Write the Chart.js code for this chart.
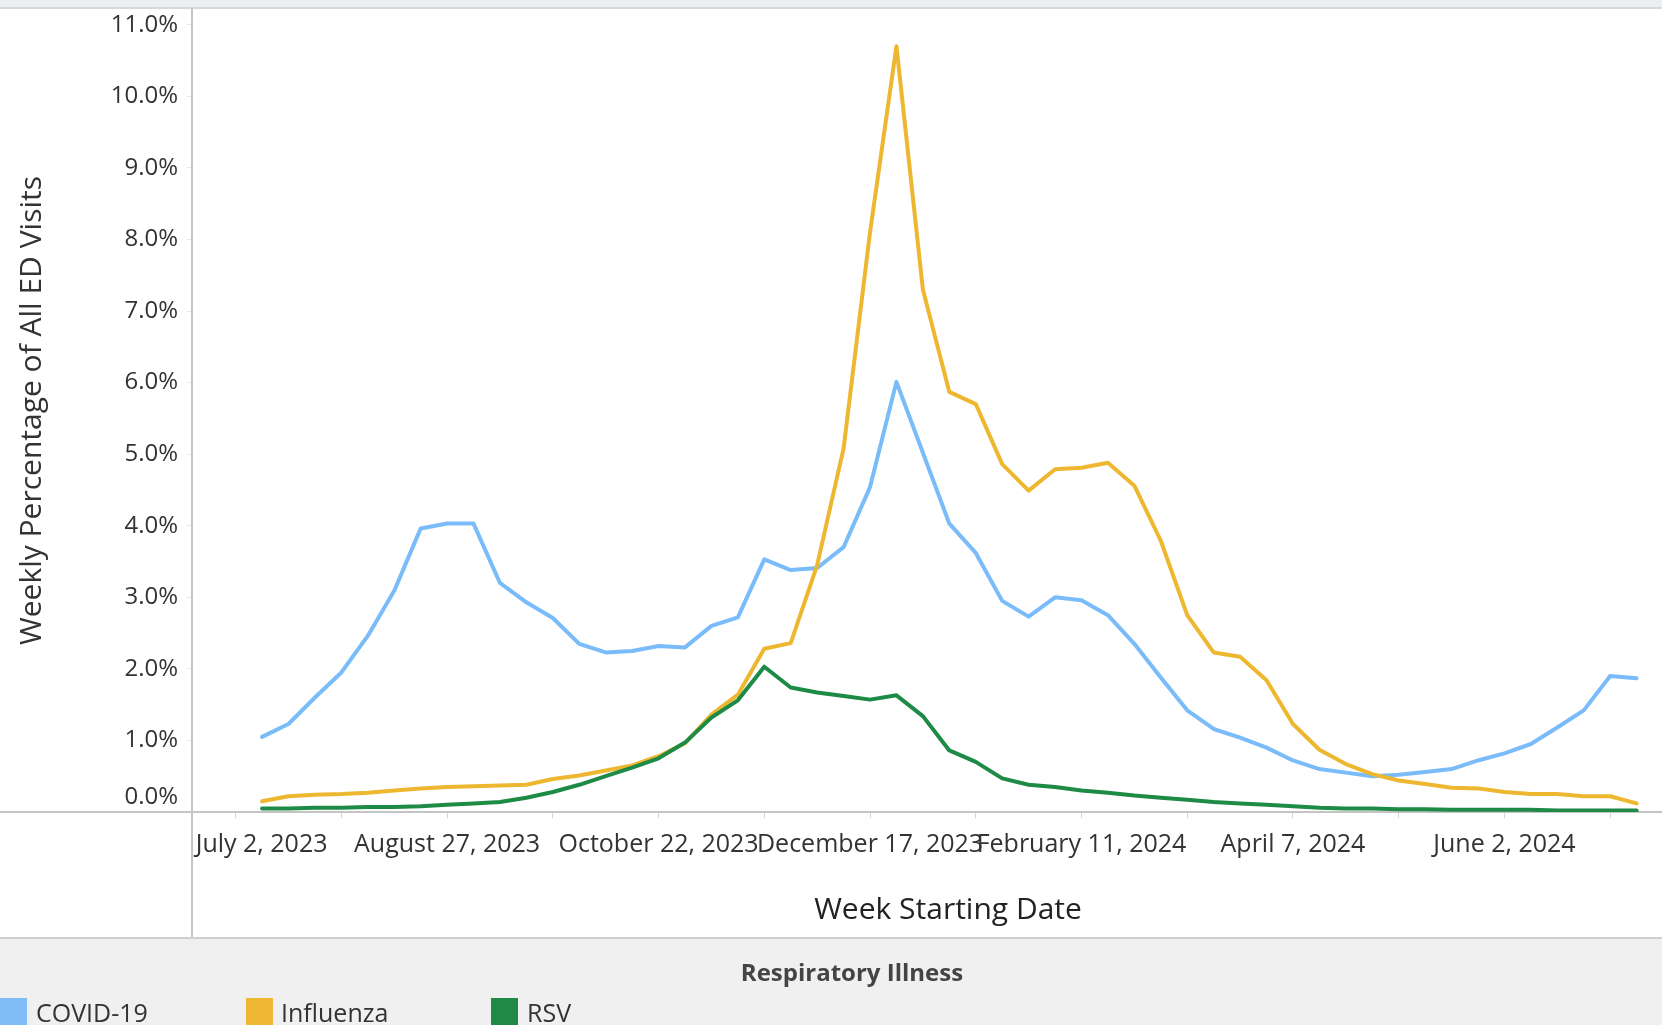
<!DOCTYPE html>
<html>
<head>
<meta charset="utf-8">
<script src="https://cdn.jsdelivr.net/npm/chart.js@4.4.1/dist/chart.umd.min.js"></script>
<style>
  html, body { margin: 0; padding: 0; width: 1662px; height: 1025px; overflow: hidden; background: #fff; font-family: 'Open Sans', sans-serif; }
  #topband { position: absolute; left: 0; top: 0; width: 1662px; height: 7px; background: #eceef1; border-bottom: 2px solid #d6d8dc; }
  #wrap { position: absolute; left: 0; top: 0; width: 1704px; height: 938px; }
  .rule { position: absolute; background: #c4c4c4; }
  #legend { position: absolute; left: 0; top: 937px; width: 1662px; height: 88px; background: #f0f0f0; border-top: 2px solid #cfcfcf; }
  #legend .ttl { position: absolute; left: 0; width: 1704px; top: 18px; height: 30px; line-height: 30px; text-align: center; font-weight: 700; font-size: 24px; color: #444; }
  #legend .sw { position: absolute; top: 59px; width: 27px; height: 29px; }
  #legend .lb { position: absolute; top: 58px; height: 30px; line-height: 30px; font-size: 25px; color: #333; }
</style>
</head>
<body>
<div id="topband"></div>
<div id="wrap"><canvas id="chart" width="1704" height="938"></canvas></div>
<div class="rule" style="left:0;top:811px;width:192px;height:2px"></div>
<div class="rule" style="left:191px;top:812px;width:2px;height:126px"></div>
<div id="legend">
  <div class="ttl">Respiratory Illness</div>
  <div class="sw" style="left:0;background:#80bdf6"></div>
  <div class="lb" style="left:36px">COVID-19</div>
  <div class="sw" style="left:246px;background:#efb733"></div>
  <div class="lb" style="left:281px">Influenza</div>
  <div class="sw" style="left:491px;background:#1f8a45"></div>
  <div class="lb" style="left:527px">RSV</div>
</div>
<script>
// week starting dates (categories)
const weeks = [
  'July 2, 2023', 'July 9, 2023', 'July 16, 2023', 'July 23, 2023', 'July 30, 2023',
  'August 6, 2023', 'August 13, 2023', 'August 20, 2023', 'August 27, 2023',
  'September 3, 2023', 'September 10, 2023', 'September 17, 2023', 'September 24, 2023',
  'October 1, 2023', 'October 8, 2023', 'October 15, 2023', 'October 22, 2023', 'October 29, 2023',
  'November 5, 2023', 'November 12, 2023', 'November 19, 2023', 'November 26, 2023',
  'December 3, 2023', 'December 10, 2023', 'December 17, 2023', 'December 24, 2023', 'December 31, 2023',
  'January 7, 2024', 'January 14, 2024', 'January 21, 2024', 'January 28, 2024',
  'February 4, 2024', 'February 11, 2024', 'February 18, 2024', 'February 25, 2024',
  'March 3, 2024', 'March 10, 2024', 'March 17, 2024', 'March 24, 2024', 'March 31, 2024',
  'April 7, 2024', 'April 14, 2024', 'April 21, 2024', 'April 28, 2024',
  'May 5, 2024', 'May 12, 2024', 'May 19, 2024', 'May 26, 2024',
  'June 2, 2024', 'June 9, 2024', 'June 16, 2024', 'June 23, 2024', 'June 30, 2024'
];

// weekly % of all ED visits
const covid = [1.05, 1.23, 1.60, 1.95, 2.46, 3.09, 3.96, 4.03, 4.03, 3.20, 2.93, 2.71, 2.35, 2.23, 2.25, 2.32, 2.30, 2.60, 2.72, 3.53,
  3.38, 3.41, 3.70, 4.54, 6.01, 5.02, 4.03, 3.62, 2.95, 2.73, 3.00, 2.96, 2.75, 2.35, 1.88, 1.42, 1.16, 1.04, 0.90, 0.72,
  0.60, 0.55, 0.50, 0.52, 0.56, 0.60, 0.72, 0.82, 0.95, 1.18, 1.42, 1.90, 1.87];
const influenza = [0.15, 0.22, 0.24, 0.25, 0.27, 0.30, 0.33, 0.35, 0.36, 0.37, 0.38, 0.46, 0.51, 0.58, 0.65, 0.78, 0.96, 1.36, 1.64, 2.28,
  2.36, 3.45, 5.08, 8.10, 10.70, 7.30, 5.87, 5.70, 4.86, 4.49, 4.79, 4.81, 4.88, 4.56, 3.79, 2.75, 2.23, 2.17, 1.84, 1.23,
  0.87, 0.67, 0.53, 0.44, 0.39, 0.34, 0.33, 0.28, 0.25, 0.25, 0.22, 0.22, 0.12];
const rsv = [0.05, 0.05, 0.06, 0.06, 0.07, 0.07, 0.08, 0.10, 0.12, 0.14, 0.20, 0.28, 0.38, 0.50, 0.62, 0.75, 0.97, 1.32, 1.56, 2.03,
  1.74, 1.67, 1.62, 1.57, 1.63, 1.34, 0.86, 0.70, 0.47, 0.38, 0.35, 0.30, 0.27, 0.23, 0.20, 0.17, 0.14, 0.12, 0.10, 0.08,
  0.06, 0.05, 0.05, 0.04, 0.04, 0.03, 0.03, 0.03, 0.03, 0.02, 0.02, 0.02, 0.02];

// labelled weeks; the label sits on the week boundary just before each one
const labelWeeks = [0, 8, 16, 24, 32, 40, 48];
const markWeeks = [-1, 3, 7, 11, 15, 19, 23, 27, 31, 35, 39, 43, 47, 51];
const yTicks = [0, 1, 2, 3, 4, 5, 6, 7, 8, 9, 10, 11];

const X_MIN = -2.65, X_MAX = 54.55;
const FONT = 'Open Sans';

const toPoints = arr => arr.map((v, i) => ({ x: i, y: v }));

function lineSet(label, data, color, order) {
    return {
        label: label,
        data: toPoints(data),
        borderColor: color,
        backgroundColor: color,
        borderWidth: 4,
        pointRadius: 0,
        tension: 0,
        borderJoinStyle: 'round',
        borderCapStyle: 'round',
        order: order
    };
}

new Chart(document.getElementById('chart'), {
    type: 'line',
    data: {
        datasets: [
            lineSet('COVID-19', covid, '#7abbf9', 3),
            lineSet('Influenza', influenza, '#eeb730', 2),
            lineSet('RSV', rsv, '#1d8a45', 1)
        ]
    },
    options: {
        responsive: false,
        animation: false,
        layout: { padding: { top: 9, left: 0, right: 0, bottom: 0 } },
        plugins: {
            legend: { display: false },
            tooltip: {
                callbacks: {
                    title: (items) => weeks[items[0].parsed.x],
                    label: (ctx) => `${ctx.dataset.label}: ${ctx.parsed.y.toFixed(1)}%`
                }
            }
        },
        scales: {
            x2: {
                type: 'linear',
                position: 'bottom',
                weight: -1,
                min: X_MIN,
                max: X_MAX,
                afterBuildTicks: (s) => { s.ticks = markWeeks.map(v => ({ value: v })); },
                afterFit: (s) => { s.height = 0; s.paddingLeft = 0; s.paddingRight = 0; },
                ticks: { display: false },
                grid: { drawOnChartArea: false, drawTicks: true, tickLength: 6, color: '#d4d4d4' },
                border: { display: false }
            },
            x: {
                type: 'linear',
                position: 'bottom',
                min: X_MIN,
                max: X_MAX,
                afterBuildTicks: (s) => { s.ticks = labelWeeks.map(w => ({ value: w - 1 })); },
                afterFit: (s) => { s.height = 126; s.paddingLeft = 0; s.paddingRight = 0; },
                ticks: {
                    autoSkip: false,
                    maxRotation: 0,
                    padding: 10,
                    color: '#333',
                    font: { family: FONT, size: 25 },
                    // first label is kept inside the axis start, as in the original
                    callback: (v) => (v < 0 ? '        ' : '') + weeks[v + 1]
                },
                grid: { display: false },
                border: { display: true, color: '#c4c4c4', width: 2 },
                title: {
                    display: true,
                    text: 'Week Starting Date',
                    color: '#222',
                    font: { family: FONT, size: 30 },
                    padding: { top: 0, bottom: 10 }
                }
            },
            y: {
                min: 0,
                max: 11.22,
                afterBuildTicks: (s) => { s.ticks = yTicks.map(v => ({ value: v })); },
                afterFit: (s) => { s.width = 192; s.paddingTop = 0; s.paddingBottom = 0; },
                ticks: {
                    padding: 9,
                    color: '#333',
                    font: (ctx) => (ctx.tick && ctx.tick.value === 0)
                        ? { family: FONT, size: 24, lineHeight: '30px' }
                        : { family: FONT, size: 24 },
                    callback: (v) => v === 0 ? ['0.0%', ''] : v.toFixed(1) + '%'
                },
                grid: { drawOnChartArea: false, drawTicks: true, tickLength: 5, color: '#e6e6e6' },
                border: { display: true, color: '#c4c4c4', width: 2 },
                title: {
                    display: true,
                    text: 'Weekly Percentage of All ED Visits',
                    color: '#333',
                    font: { family: FONT, size: 30 },
                    padding: { top: 14, bottom: 0 }
                }
            }
        }
    }
});
</script>
</body>
</html>
